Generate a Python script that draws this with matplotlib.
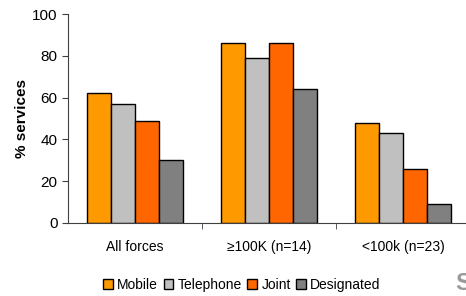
import numpy as np
import matplotlib
matplotlib.use("Agg")
from matplotlib import pyplot as plt

plt.rcParams['font.family'] = ['Liberation Sans', 'DejaVu Sans']

groups = ["All forces", "\u2265100K (n=14)", "<100k (n=23)"]
series = ["Mobile", "Telephone", "Joint", "Designated"]
mobile = [62, 86, 48]
telephone = [57, 79, 43]
joint = [49, 86, 26]
designated = [30, 64, 9]
colors = ["#FF9900", "#C0C0C0", "#FF6600", "#808080"]

fig = plt.figure(figsize=(4.66, 2.96), dpi=100)
ax = fig.add_axes([68 / 466, 73 / 296, 1 - 68 / 466, 209 / 296])

x = np.arange(len(groups))
w = 0.18
for i, (name, vals) in enumerate(zip(series, [mobile, telephone, joint, designated])):
    ax.bar(x + (i - 1.5) * w, vals, w, color=colors[i], edgecolor="black",
           linewidth=1, label=name)

ax.set_xlim(-0.5, 2.47)
ax.set_ylim(0, 100)
ax.set_yticks([0, 20, 40, 60, 80, 100])
ax.set_xticks(x)
ax.set_xticklabels(groups, fontsize=10)
ax.set_xticks([0.5, 1.5], minor=True)
ax.tick_params(axis="x", which="major", length=0, pad=12)
ax.tick_params(axis="x", which="minor", length=4, direction="out", color="#404040")
ax.tick_params(axis="y", labelsize=11, length=4, color="#404040")
ax.set_ylabel("% services", fontsize=11, fontweight="bold", labelpad=2)

for s in ["top", "right"]:
    ax.spines[s].set_visible(False)
for s in ["left", "bottom"]:
    ax.spines[s].set_color("#404040")

fig.legend(loc="center", bbox_to_anchor=(242 / 466, 1 - 285 / 296), ncol=4,
           frameon=False, fontsize=10, handlelength=0.7, handleheight=0.7,
           handletextpad=0.3, columnspacing=0.4)

fig.text(455 / 466, 1 - 283 / 296, "S", fontsize=17, fontweight="bold",
         color="#999999", va="center", ha="left")

fig.savefig("out.png", dpi=100)
